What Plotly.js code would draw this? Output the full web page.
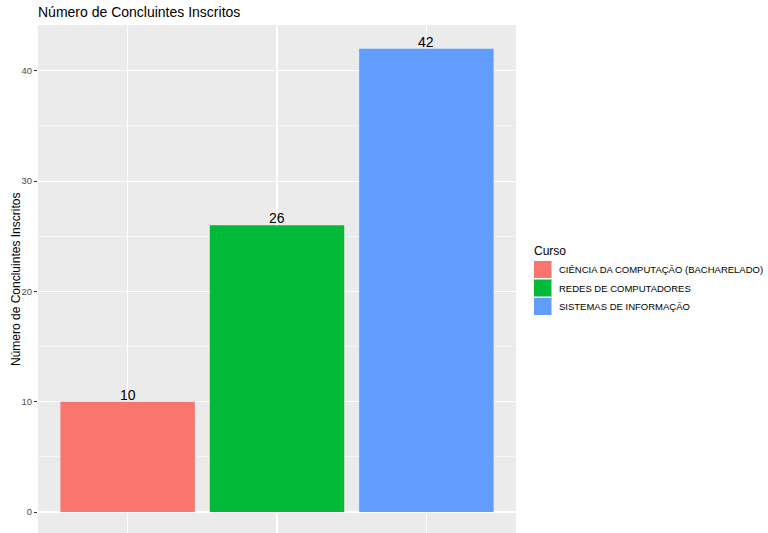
<!DOCTYPE html>
<html>
<head>
<meta charset="utf-8">
<script src="https://cdn.plot.ly/plotly-3.0.1.min.js"></script>
<style>html,body{margin:0;padding:0;background:#fff;}#chart{width:768px;height:533px;}</style>
</head>
<body>
<div id="chart"></div>
<script>
// Data
const cursos = ["CIÊNCIA DA COMPUTAÇÃO (BACHARELADO)", "REDES DE COMPUTADORES", "SISTEMAS DE INFORMAÇÃO"];
const concluintes = [10, 26, 42];
const cores = ["#F8766D", "#00BA38", "#619CFF"];
const tituloGrafico = "Número de Concluintes Inscritos";
const tituloEixoY = "Número de Concluintes Inscritos";
const tituloLegenda = "Curso";

const W = 768, H = 533;
const L = 38, R = 516, T = 25, B = 533;
const pw = R - L, ph = B - T;
const px = x => (x - L) / pw;
const py = y => (B - y) / ph;
const FONT = "Liberation Sans, Arial, sans-serif";

const traces = cursos.map((c, i) => ({
  type: "bar",
  x: [c],
  y: [concluintes[i]],
  marker: {color: cores[i], line: {width: 0}},
  width: 0.9,
  name: c,
  showlegend: false,
  hoverinfo: "x+y"
}));

const annotations = cursos.map((c, i) => ({
  x: c, y: concluintes[i], xref: "x", yref: "y",
  text: String(concluintes[i]), showarrow: false,
  yanchor: "bottom", xanchor: "center", yshift: -3,
  font: {family: FONT, size: 14, color: "#000"}
}));

annotations.push({
  xref: "paper", yref: "paper", x: px(16), y: py(280),
  text: tituloEixoY, textangle: -90, showarrow: false,
  xanchor: "center", yanchor: "middle",
  font: {family: FONT, size: 12, color: "#000"}
});

annotations.push({
  xref: "paper", yref: "paper", x: px(531.5), y: py(251),
  text: tituloLegenda, showarrow: false, xanchor: "left", yanchor: "middle",
  font: {family: FONT, size: 12, color: "#000"}
});

const shapes = [];
const keyTops = [261, 279.5, 298];
cursos.forEach((c, i) => {
  const t = keyTops[i];
  shapes.push({
    type: "rect", xref: "paper", yref: "paper",
    x0: px(534), x1: px(551.5), y0: py(t + 17), y1: py(t),
    fillcolor: cores[i], line: {width: 0}
  });
  annotations.push({
    xref: "paper", yref: "paper", x: px(557), y: py(t + 8.5),
    text: c, showarrow: false, xanchor: "left", yanchor: "middle",
    font: {family: FONT, size: 9.5, color: "#000"}
  });
});

const layout = {
  width: W, height: H,
  margin: {l: L, r: W - R, t: T, b: H - B, pad: 0},
  paper_bgcolor: "#fff",
  plot_bgcolor: "#EBEBEB",
  title: {
    text: tituloGrafico, x: 38 / W, xref: "container", xanchor: "left",
    y: 1 - 12 / H, yref: "container", yanchor: "middle",
    font: {family: FONT, size: 14, color: "#000"}
  },
  showlegend: false,
  bargap: 0.1,
  xaxis: {
    type: "category", range: [-0.6, 2.6],
    showticklabels: false, ticks: "",
    showgrid: true, gridcolor: "#fff", gridwidth: 1.1,
    zeroline: false, showline: false, fixedrange: true
  },
  yaxis: {
    range: [-1.9, 44.15],
    tickvals: [0, 10, 20, 30, 40],
    ticks: "outside", ticklen: 3, tickwidth: 1, tickcolor: "#333",
    tickfont: {family: FONT, size: 9.5, color: "#4D4D4D"},
    showgrid: true, gridcolor: "#fff", gridwidth: 1.1,
    minor: {tickvals: [5, 15, 25, 35], showgrid: true, gridcolor: "#fff", gridwidth: 0.5, ticks: ""},
    zeroline: false, showline: false, fixedrange: true
  },
  annotations: annotations,
  shapes: shapes
};

Plotly.newPlot("chart", traces, layout, {displayModeBar: false, staticPlot: true});
</script>
</body>
</html>
